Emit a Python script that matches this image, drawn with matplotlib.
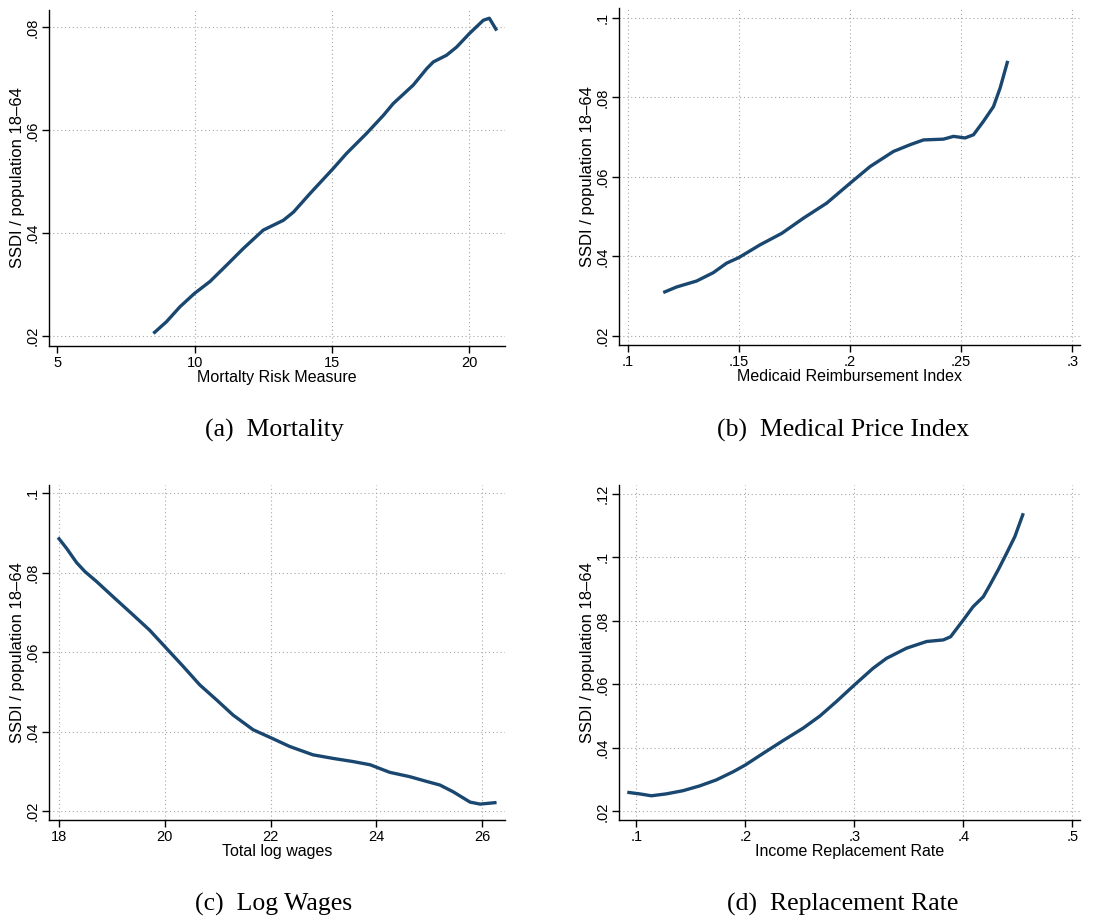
import matplotlib
matplotlib.use("Agg")
import matplotlib.pyplot as plt

# ---------------- data ----------------
mort_x = [8.5, 8.98, 9.47, 10.0, 10.56, 11.17, 11.77, 12.5, 13.23, 13.6, 14.2, 15.05, 15.53,
          16.26, 16.87, 17.23, 17.96, 18.45, 18.69, 19.17, 19.54, 20.0, 20.51, 20.73, 21.0]
mort_y = [0.0205, 0.0228, 0.0257, 0.0283, 0.0306, 0.0338, 0.0370, 0.0406, 0.0425, 0.0441,
          0.0477, 0.0526, 0.0555, 0.0594, 0.0629, 0.0652, 0.0688, 0.0720, 0.0733, 0.0746,
          0.0762, 0.0788, 0.0814, 0.0818, 0.0794]

med_x = [0.116, 0.122, 0.131, 0.1385, 0.1445, 0.150, 0.1595, 0.1693, 0.179, 0.1895, 0.200,
         0.209, 0.2195, 0.227, 0.233, 0.242, 0.2465, 0.2517, 0.2555, 0.260, 0.2645, 0.2675, 0.2709]
med_y = [0.0309, 0.0323, 0.0338, 0.0359, 0.0383, 0.0397, 0.0429, 0.0458, 0.0496, 0.0534, 0.0584,
         0.0626, 0.0664, 0.0681, 0.0693, 0.0695, 0.0702, 0.0698, 0.0706, 0.0740, 0.0777, 0.0824, 0.0892]

wage_x = [17.98, 18.14, 18.33, 18.49, 18.71, 19.02, 19.40, 19.71, 20.03, 20.35, 20.66, 20.98,
          21.29, 21.67, 22.02, 22.36, 22.80, 23.18, 23.56, 23.88, 24.25, 24.63, 24.95, 25.20,
          25.45, 25.77, 25.96, 26.27]
wage_y = [0.0889, 0.0862, 0.0826, 0.0803, 0.0778, 0.0740, 0.0694, 0.0656, 0.0610, 0.0564, 0.0518,
          0.0480, 0.0442, 0.0405, 0.0384, 0.0363, 0.0342, 0.0333, 0.0325, 0.0317, 0.0298, 0.0287,
          0.0275, 0.0266, 0.0249, 0.0223, 0.0218, 0.0222]

repl_x = [0.0917, 0.103, 0.1138, 0.1275, 0.1428, 0.158, 0.1734, 0.189, 0.200, 0.2165, 0.2347,
          0.253, 0.2683, 0.2836, 0.300, 0.3173, 0.3295, 0.3479, 0.3663, 0.3816, 0.3883, 0.400,
          0.409, 0.4183, 0.4244, 0.432, 0.4397, 0.4473, 0.455]
repl_y = [0.0260, 0.0255, 0.0249, 0.0255, 0.0265, 0.0280, 0.0299, 0.0325, 0.0346, 0.0383, 0.0423,
          0.0462, 0.0500, 0.0546, 0.0598, 0.0651, 0.0682, 0.0714, 0.0735, 0.0740, 0.0750, 0.0803,
          0.0845, 0.0876, 0.0913, 0.0961, 0.1013, 0.1066, 0.1139]

mort_xticks = [5, 10, 15, 20]
mort_xlabels = ["5", "10", "15", "20"]
mort_yticks = [0.02, 0.04, 0.06, 0.08]
mort_ylabels = [".02", ".04", ".06", ".08"]

med_xticks = [0.1, 0.15, 0.2, 0.25, 0.3]
med_xlabels = [".1", ".15", ".2", ".25", ".3"]
med_yticks = [0.02, 0.04, 0.06, 0.08, 0.1]
med_ylabels = [".02", ".04", ".06", ".08", ".1"]

wage_xticks = [18, 20, 22, 24, 26]
wage_xlabels = ["18", "20", "22", "24", "26"]
wage_yticks = [0.02, 0.04, 0.06, 0.08, 0.1]
wage_ylabels = [".02", ".04", ".06", ".08", ".1"]

repl_xticks = [0.1, 0.2, 0.3, 0.4, 0.5]
repl_xlabels = [".1", ".2", ".3", ".4", ".5"]
repl_yticks = [0.02, 0.04, 0.06, 0.08, 0.1, 0.12]
repl_ylabels = [".02", ".04", ".06", ".08", ".1", ".12"]

ylabel_text = "SSDI / population 18\u201364"

# ---------------- style ----------------
W, H = 1113, 918
fig = plt.figure(figsize=(W / 100, H / 100), dpi=100)
fig.patch.set_facecolor("white")
LINE = "#1a476f"
GRID = "#a8a8a8"
SANS = ["Liberation Sans", "DejaVu Sans"]
SERIF = ["Liberation Serif", "DejaVu Serif"]


def make_ax(left, right, top, bottom):
    return fig.add_axes([left / W, 1 - bottom / H, (right - left) / W, (bottom - top) / H])


def style(ax, x, y, xlim, ylim, xticks, xlabels, yticks, ylabels, xlabel, xgrid_skip=()):
    ax.plot(x, y, color=LINE, lw=2.4, solid_capstyle="butt", solid_joinstyle="round", zorder=3)
    ax.set_xlim(*xlim)
    ax.set_ylim(*ylim)
    ax.set_xticks(xticks)
    ax.set_xticklabels(xlabels, family=SANS, fontsize=10.5)
    ax.set_yticks(yticks)
    ax.set_yticklabels(ylabels, family=SANS, fontsize=10.5, rotation=90, va="center")
    for t in xticks:
        if t in xgrid_skip:
            continue
        ax.axvline(t, color=GRID, lw=0.8, ls=(0, (1, 2.5)), zorder=1)
    for t in yticks:
        ax.axhline(t, color=GRID, lw=0.8, ls=(0, (1, 2.5)), zorder=1)
    for s in ("top", "right"):
        ax.spines[s].set_visible(False)
    for s in ("left", "bottom"):
        ax.spines[s].set_linewidth(1.0)
    ax.tick_params(direction="out", length=5, width=1.0, pad=2)
    ax.set_xlabel(xlabel, family=SANS, fontsize=11.5, labelpad=0)
    ax.set_ylabel(ylabel_text, family=SANS, fontsize=12, labelpad=0)


ax_a = make_ax(49, 505, 10, 346)
style(ax_a, mort_x, mort_y, (4.70, 21.3), (0.01806, 0.0834), mort_xticks, mort_xlabels,
      mort_yticks, mort_ylabels, "Mortalty Risk Measure", xgrid_skip=(5,))

ax_b = make_ax(619, 1080, 8, 345)
style(ax_b, med_x, med_y, (0.0961, 0.3034), (0.0177, 0.1025), med_xticks, med_xlabels,
      med_yticks, med_ylabels, "Medicaid Reimbursement Index")

ax_c = make_ax(49, 505, 485, 820)
style(ax_c, wage_x, wage_y, (17.81, 26.43), (0.0178, 0.1021), wage_xticks, wage_xlabels,
      wage_yticks, wage_ylabels, "Total log wages")

ax_d = make_ax(619, 1080, 485, 820)
style(ax_d, repl_x, repl_y, (0.0841, 0.507), (0.01727, 0.1228), repl_xticks, repl_xlabels,
      repl_yticks, repl_ylabels, "Income Replacement Rate")

captions = [("(a)  Mortality", 274, 430), ("(b)  Medical Price Index", 843, 430),
            ("(c)  Log Wages", 274, 904), ("(d)  Replacement Rate", 843, 904)]
for txt, cx, cy in captions:
    fig.text(cx / W, 1 - cy / H, txt, family=SERIF, fontsize=18.5, ha="center", va="center")

fig.savefig("out.png", dpi=100, facecolor="white")
